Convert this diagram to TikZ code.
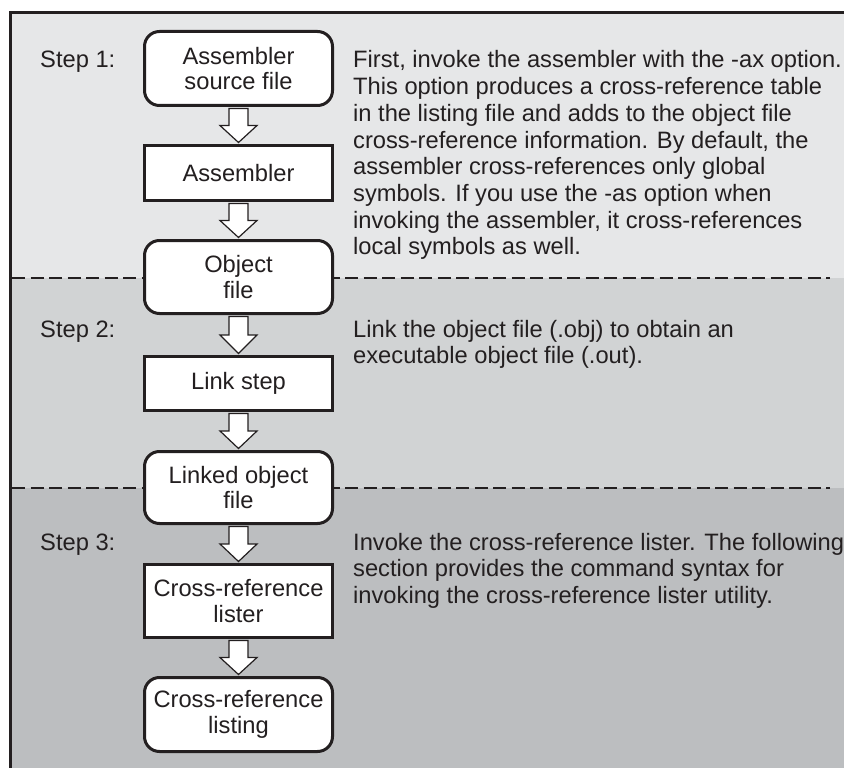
\documentclass[tikz,border=0pt]{standalone}
\usepackage{fontspec}
\setmainfont{Liberation Sans}
\usetikzlibrary{calc}
\definecolor{bandA}{HTML}{E6E7E8}
\definecolor{bandB}{HTML}{D1D3D4}
\definecolor{bandC}{HTML}{BCBEC0}
\definecolor{ink}{HTML}{231F20}
\begin{document}
\begin{tikzpicture}[x=1pt,y=-1pt,
  txt/.style={font=\fontsize{23.7pt}{25.5pt}\selectfont, text=ink},
  lbl/.style={txt, anchor=base west, inner sep=0pt},
  boxbase/.style={txt, draw=ink, fill=white, line width=3pt, minimum width=188pt, align=center, inner sep=2pt},
  rbox/.style={boxbase, rounded corners=15pt},
  sbox/.style={boxbase},
  blockarrow/.style={draw=ink, fill=white, line width=1.2pt, line join=miter},
  sep/.style={draw=ink, line width=2pt, dash pattern=on 13pt off 5.5pt}
]
\useasboundingbox (0,0) rectangle (844,768);
% bands
\fill[bandA] (11,12) rectangle (844,278);
\fill[bandB] (11,278) rectangle (844,488);
\fill[bandC] (11,488) rectangle (844,768);
\draw[ink, line width=2.2pt] (844,12.5) -- (10.5,12.5) -- (10.5,768);
% separators
\draw[sep] (12,278) -- (830,278);
\draw[sep] (12,488) -- (830,488);

% nodes
\node[rbox, minimum height=74pt] (n1) at (238.5,68.5) {Assembler\\source file};
\node[sbox, minimum height=55pt] (n2) at (238.5,173) {Assembler};
\node[rbox, minimum height=73pt] (n3) at (238.5,277) {Object\\file};
\node[sbox, minimum height=54pt] (n4) at (238.5,383.5) {Link step};
\node[rbox, minimum height=72pt] (n5) at (238.5,487.5) {Linked object\\file};
\node[sbox, minimum height=73pt] (n6) at (238.5,601) {Cross-reference\\lister};
\node[rbox, minimum height=74pt] (n7) at (238.5,714.5) {Cross-reference\\listing};

% block arrows
\foreach \a/\b in {n1/n2,n2/n3,n3/n4,n4/n5,n5/n6,n6/n7}{
  \draw[blockarrow] let \p1=(\a.south), \p2=(\b.north) in
    (\x1-9.5pt,\y1-1.5pt) -- (\x1+9.5pt,\y1-1.5pt) -- (\x1+9.5pt,{(\y1+\y2)/2}) --
    (\x1+18.5pt,{(\y1+\y2)/2}) -- (\x2,\y2+1.5pt) -- (\x1-18.5pt,{(\y1+\y2)/2}) --
    (\x1-9.5pt,{(\y1+\y2)/2}) -- cycle;
}

% step labels
\node[lbl] (s1) at (40,67) {Step 1:};
\node[lbl] (s2) at (40,337) {Step 2:};
\node[lbl] (s3) at (40,550) {Step 3:};

% step 1 text
\foreach \i/\t in {0/{First, invoke the assembler with the -ax option.},
  1/{This option produces a cross-reference table},
  2/{in the listing file and adds to the object file},
  3/{cross-reference information. By default, the},
  4/{assembler cross-references only global},
  5/{symbols. If you use the -as option when},
  6/{invoking the assembler, it cross-references},
  7/{local symbols as well.}}{
  \node[lbl] (ta\i) at (353,{68+26.7*\i}) {\t};
}
% step 2 text
\foreach \i/\t in {0/{Link the object file (.obj) to obtain an},
  1/{executable object file (.out).}}{
  \node[lbl] (tb\i) at (353,{337+26.7*\i}) {\t};
}
% step 3 text
\foreach \i/\t in {0/{Invoke the cross-reference lister. The following},
  1/{section provides the command syntax for},
  2/{invoking the cross-reference lister utility.}}{
  \node[lbl] (tc\i) at (353,{550+26.7*\i}) {\t};
}
\end{tikzpicture}
\end{document}
